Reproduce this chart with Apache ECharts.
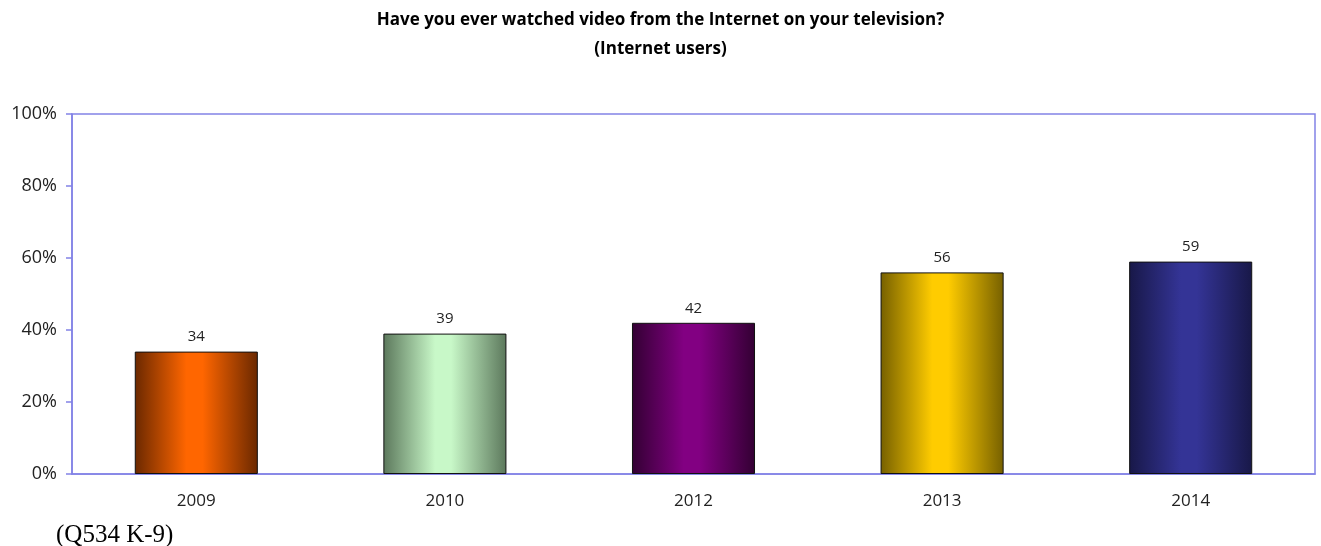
<!DOCTYPE html>
<html>
<head>
<meta charset="utf-8">
<script src="https://cdn.jsdelivr.net/npm/echarts@6/dist/echarts.min.js"></script>
<style>
  html, body { margin: 0; padding: 0; background: #fff; }
  #chart { width: 1321px; height: 546px; }
</style>
</head>
<body>
<div id="chart"></div>
<script>
// Survey years and share of Internet users (%)
const years = ['2009', '2010', '2012', '2013', '2014'];
const shares = [34, 39, 42, 56, 59];
const yTicks = [0, 20, 40, 60, 80, 100];

// Per-bar colour pairs: [edge shade, centre highlight]
const barColors = [
  ['#6a2800', '#ff6600'],
  ['#5c785c', '#c8f8c8'],
  ['#330033', '#820082'],
  ['#766000', '#ffcc00'],
  ['#181848', '#343496']
];

function cylinder(pair) {
  return {
    type: 'linear', x: 0, y: 0, x2: 1, y2: 0,
    colorStops: [
      { offset: 0, color: pair[0] },
      { offset: 0.42, color: pair[1] },
      { offset: 0.55, color: pair[1] },
      { offset: 1, color: pair[0] }
    ]
  };
}

const axisBlue = '#8282e6';
const chart = echarts.init(document.getElementById('chart'), null, { renderer: 'canvas' });

chart.setOption({
  animation: false,
  title: [
    {
      text: 'Have you ever watched video from the Internet on your television?\n(Internet users)',
      left: 'center', top: 1,
      textStyle: {
        fontFamily: 'Open Sans', fontWeight: 'bold', fontSize: 17,
        color: '#000', lineHeight: 29
      }
    },
    {
      text: '(Q534 K-9)',
      left: 51, top: 518,
      textStyle: {
        fontFamily: 'Liberation Serif', fontWeight: 'normal', fontSize: 25, color: '#000'
      }
    }
  ],
  grid: {
    left: 72, right: 6, top: 114, bottom: 72,
    show: true, borderColor: axisBlue, borderWidth: 1.5, backgroundColor: '#fff'
  },
  xAxis: {
    type: 'category',
    data: years,
    axisLine: { show: true, lineStyle: { color: axisBlue, width: 1.5 } },
    axisTick: { show: false },
    axisLabel: { fontFamily: 'Open Sans', fontSize: 17, color: '#222', margin: 19 }
  },
  yAxis: {
    type: 'value',
    min: yTicks[0], max: yTicks[yTicks.length - 1], interval: 20,
    axisLine: { show: true, lineStyle: { color: axisBlue, width: 1.5 } },
    axisTick: { show: true, length: 6, lineStyle: { color: axisBlue, width: 1.5 } },
    splitLine: { show: false },
    axisLabel: {
      fontFamily: 'Open Sans', fontSize: 18, color: '#222', margin: 15,
      formatter: v => v + '%'
    }
  },
  series: [{
    type: 'bar',
    barWidth: '49.5%',
    data: shares.map((v, i) => ({
      value: v,
      itemStyle: { color: cylinder(barColors[i]), borderColor: '#111', borderWidth: 1 }
    })),
    label: {
      show: true, position: 'top', distance: 7,
      fontFamily: 'Open Sans', fontSize: 15, color: '#222'
    }
  }]
});
</script>
</body>
</html>
